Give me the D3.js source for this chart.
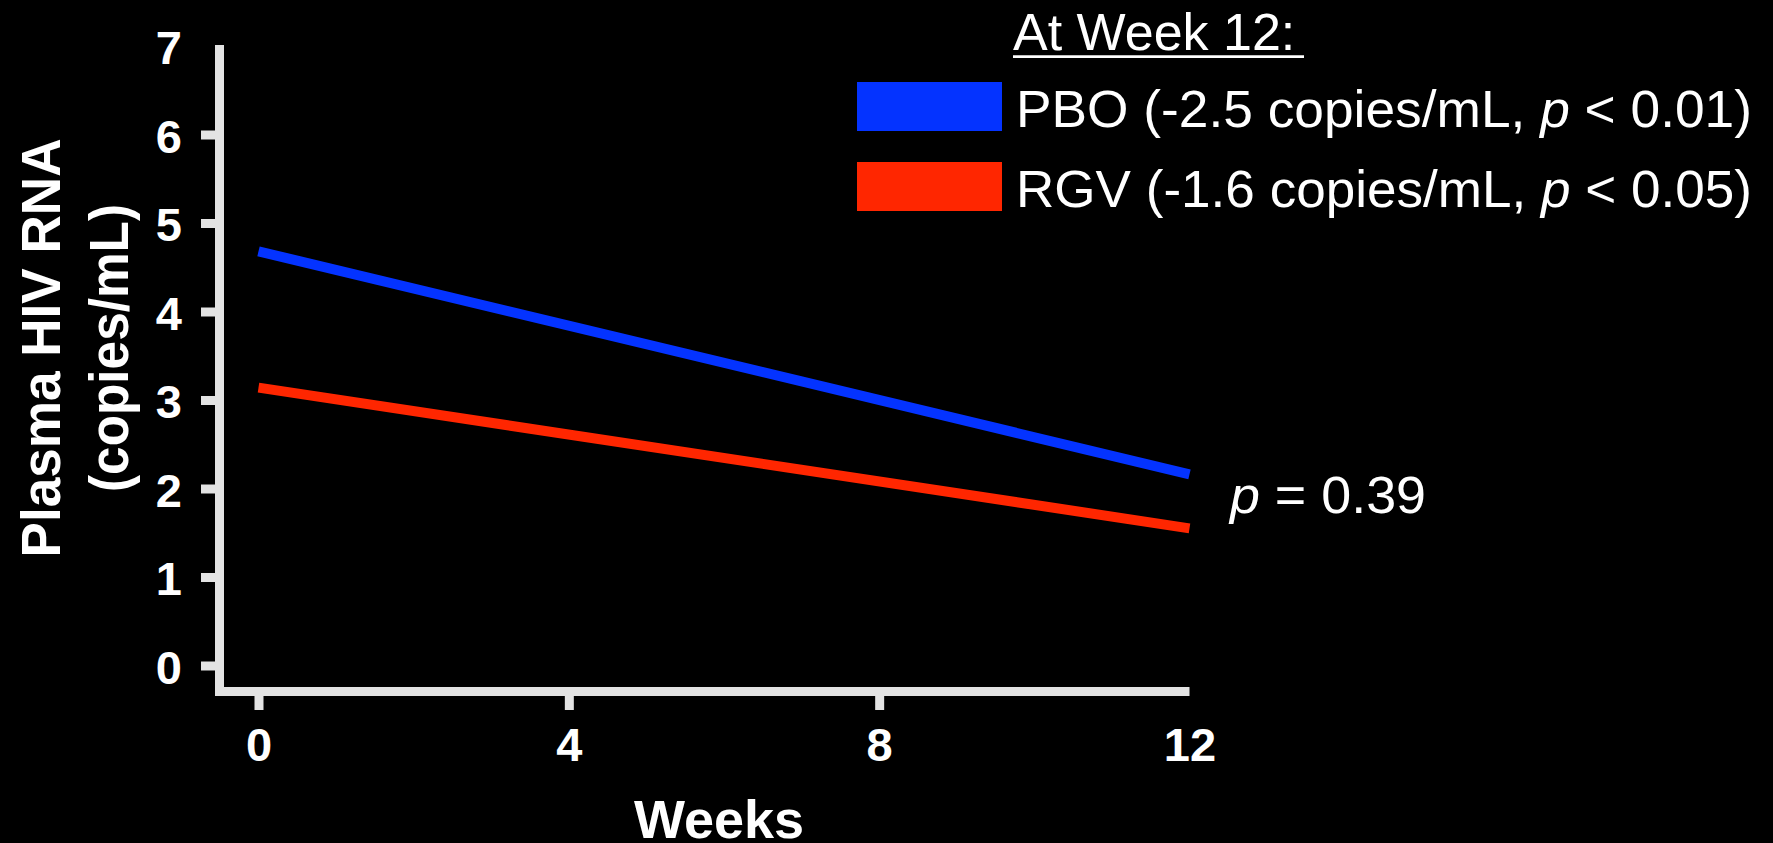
<!DOCTYPE html>
<html>
<head>
<meta charset="utf-8">
<script src="https://cdn.jsdelivr.net/npm/d3@7"></script>
<style>
    html, body { margin: 0; padding: 0; background: #000; }
    svg { display: block; }
</style>
</head>
<body>
<div id="chart"></div>
<script>
// chart values
const weekTicks = [0, 4, 8, 12];
const rnaTicks = [0, 1, 2, 3, 4, 5, 6, 7];
const lineWeeks = [0, 12];
const pboValues = [4.68, 2.16];
const rgvValues = [3.14, 1.55];
const seriesNames = ["PBO", "RGV"];
const seriesNotes = [["(-2.5 copies/mL, ", "p", " < 0.01)"], ["(-1.6 copies/mL, ", "p", " < 0.05)"]];
const legendTitle = "At Week 12:";
const compareNote = ["p", " = 0.39"];

class HivRnaD3 {
    size = {width: 1773, height: 843};
    axisColor = "#e3e3e3";
    colors = ["#0433ff", "#ff2600"];
    font = "'Liberation Sans', Arial, Helvetica, sans-serif";
    xScale = d3.scaleLinear();
    yScale = d3.scaleLinear();

    constructor(el){
        this.el = el;
    };

    create = function () {
        this.svg = d3.select(this.el)
            .append("svg")
            .attr("width", this.size.width)
            .attr("height", this.size.height)
            .style("background", "#000")
            .style("font-family", this.font);

        this.xScale.domain([0, 12]).range([258.5, 1189.5]);
        this.yScale.domain([0, 7]).range([665.5, 46]);
    };

    renderAxes = function () {
        const x = this.xScale, y = this.yScale;
        const xAxisY = 691.5;

        // y axis: ticks for 0..6, label only for 7
        const yAxis = d3.axisLeft(y).tickValues(rnaTicks).tickSize(14).tickPadding(19).tickFormat(d3.format("d"));
        const yG = this.svg.append("g")
            .attr("class", "y-axis")
            .attr("transform", "translate(215,0)")
            .call(yAxis);
        yG.select(".domain").remove();
        yG.selectAll(".tick line")
            .attr("stroke", this.axisColor)
            .attr("stroke-width", 9)
            .filter(d => d === 7).remove();
        yG.selectAll(".tick text")
            .attr("fill", "#fff")
            .attr("dy", "0.38em")
            .style("font-size", "47px")
            .style("font-weight", "bold")
            .style("font-family", this.font);

        // x axis: ticks for 0, 4, 8, label for 12
        const xAxis = d3.axisBottom(x).tickValues(weekTicks).tickSize(14).tickPadding(18).tickFormat(d3.format("d"));
        const xG = this.svg.append("g")
            .attr("class", "x-axis")
            .attr("transform", "translate(0," + (xAxisY + 4.5) + ")")
            .call(xAxis);
        xG.select(".domain").remove();
        xG.selectAll(".tick line")
            .attr("stroke", this.axisColor)
            .attr("stroke-width", 9)
            .filter(d => d === 12).remove();
        xG.selectAll(".tick text")
            .attr("fill", "#fff")
            .style("font-size", "47px")
            .style("font-weight", "bold")
            .style("font-family", this.font);

        // axis lines
        this.svg.append("line")
            .attr("x1", 219.5).attr("x2", 219.5)
            .attr("y1", y(7) - 1).attr("y2", xAxisY + 4.5)
            .attr("stroke", this.axisColor)
            .attr("stroke-width", 9);
        this.svg.append("line")
            .attr("x1", 215).attr("x2", x(12))
            .attr("y1", xAxisY).attr("y2", xAxisY)
            .attr("stroke", this.axisColor)
            .attr("stroke-width", 9);

        // titles
        this.svg.append("text")
            .attr("x", 719)
            .attr("y", 838)
            .attr("text-anchor", "middle")
            .attr("fill", "#fff")
            .style("font-size", "54px")
            .style("font-weight", "bold")
            .text("Weeks");

        const yTitle = this.svg.append("g")
            .attr("transform", "translate(0,348) rotate(-90)")
            .attr("fill", "#fff")
            .style("font-weight", "bold")
            .style("font-size", "55px");
        yTitle.append("text")
            .attr("x", 0).attr("y", 60)
            .attr("text-anchor", "middle")
            .attr("textLength", 419)
            .attr("lengthAdjust", "spacingAndGlyphs")
            .text("Plasma HIV RNA");
        yTitle.append("text")
            .attr("x", 0).attr("y", 128)
            .attr("text-anchor", "middle")
            .attr("textLength", 288)
            .attr("lengthAdjust", "spacingAndGlyphs")
            .text("(copies/mL)");
    };

    renderLines = function () {
        const line = d3.line()
            .x(d => this.xScale(d.week))
            .y(d => this.yScale(d.value));

        const series = [pboValues, rgvValues].map((vals, i) => ({
            name: seriesNames[i],
            points: lineWeeks.map((w, j) => ({week: w, value: vals[j]}))
        }));

        this.svg.selectAll(".series")
            .data(series)
            .join("path")
            .attr("class", "series")
            .attr("d", d => line(d.points))
            .attr("fill", "none")
            .attr("stroke", (d, i) => this.colors[i])
            .attr("stroke-width", 10)
            .attr("stroke-linecap", "butt");

        const note = this.svg.append("text")
            .attr("x", 1230)
            .attr("y", 513)
            .attr("fill", "#fff")
            .attr("textLength", 196)
            .attr("lengthAdjust", "spacingAndGlyphs")
            .style("font-size", "52px");
        note.append("tspan").style("font-style", "italic").text(compareNote[0]);
        note.append("tspan").text(compareNote[1]);
    };

    renderLegend = function () {
        this.svg.append("text")
            .attr("x", 1013)
            .attr("y", 50)
            .attr("fill", "#fff")
            .style("font-size", "52px")
            .text(legendTitle);
        this.svg.append("line")
            .attr("x1", 1013).attr("x2", 1304)
            .attr("y1", 56.7).attr("y2", 56.7)
            .attr("stroke", "#fff")
            .attr("stroke-width", 2.7);

        const rowY = [82, 162];
        const items = this.svg.selectAll(".legendItem")
            .data(seriesNames)
            .join("g")
            .attr("class", "legendItem")
            .attr("transform", (d, i) => "translate(857," + rowY[i] + ")");
        items.append("rect")
            .attr("width", 145)
            .attr("height", 49)
            .attr("fill", (d, i) => this.colors[i]);
        const txt = items.append("text")
            .attr("x", 159)
            .attr("y", 45)
            .attr("fill", "#fff")
            .attr("textLength", 736)
            .attr("lengthAdjust", "spacingAndGlyphs")
            .style("font-size", "52px");
        txt.append("tspan").text((d, i) => d + " " + seriesNotes[i][0]);
        txt.append("tspan").style("font-style", "italic").text((d, i) => seriesNotes[i][1]);
        txt.append("tspan").text((d, i) => seriesNotes[i][2]);
    };
}

const chart = new HivRnaD3(document.getElementById("chart"));
chart.create();
chart.renderAxes();
chart.renderLines();
chart.renderLegend();
</script>
</body>
</html>
